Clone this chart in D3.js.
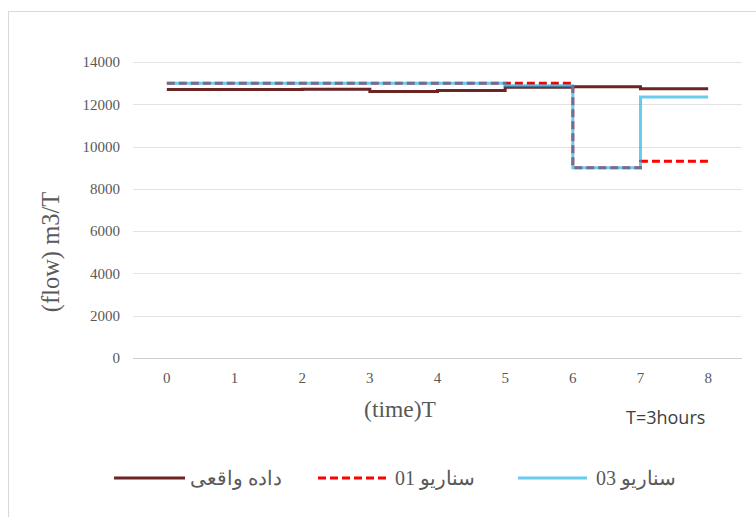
<!DOCTYPE html>
<html><head><meta charset="utf-8">
<script src="https://cdn.jsdelivr.net/npm/d3@7"></script>
<style>body{margin:0;background:#fff}svg{display:block}</style>
</head><body>
<svg id="c" width="756" height="517"></svg>
<script>
const categories = [0,1,2,3,4,5,6,7,8];
const realData = [12700,12700,12710,12600,12650,12800,12830,12740,12740];
const scenario01 = [13000,13000,13000,13000,13000,13000,9000,9300,9300];
const scenario03 = [13000,13000,13000,13000,13000,12880,9000,12350,12350];
const yTicks = [0,2000,4000,6000,8000,10000,12000,14000];
const seriesNames = ["داده واقعی","سناریو 01","سناریو 03"];

(function(){
const svg = d3.select("#c");
const W=756,H=517;
svg.append("rect").attr("x",8.5).attr("y",11.5).attr("width",W).attr("height",H).attr("fill","#fff").attr("stroke","#d9d9d9");

const pL=133,pR=742,pT=62,pB=358;
const band = d3.scaleBand().domain(categories).range([pL,pR]);
const x = v => band(v)+band.bandwidth()/2;
const y = d3.scaleLinear().domain([0,14000]).range([pB,pT]);

const serif = "'Liberation Serif','Times New Roman',serif";
svg.append("g").selectAll("line").data(yTicks.filter(d=>d>0)).join("line")
  .attr("x1",pL).attr("x2",pR).attr("y1",d=>Math.round(y(d))+0.5).attr("y2",d=>Math.round(y(d))+0.5)
  .attr("stroke","#e3e3e3").attr("stroke-width",1);
svg.append("line").attr("x1",pL).attr("x2",pR).attr("y1",Math.round(y(0))+0.5).attr("y2",Math.round(y(0))+0.5)
  .attr("stroke","#cfcfcf").attr("stroke-width",1);

const yAxis = d3.axisLeft(y).tickValues(yTicks).tickSize(0).tickPadding(13).tickFormat(d3.format("d"));
const gy = svg.append("g").attr("transform",`translate(${pL},0)`).call(yAxis);
gy.select(".domain").remove();
gy.attr("font-family",null).attr("font-size",null);
gy.selectAll("text").style("font-family",serif).style("font-size","15px").style("fill","#595959");

const xAxis = d3.axisBottom(band).tickSize(0).tickPadding(14);
const gx = svg.append("g").attr("transform",`translate(0,${pB})`).call(xAxis);
gx.select(".domain").remove();
gx.attr("font-family",null).attr("font-size",null);
gx.selectAll("text").style("font-family",serif).style("font-size","15px").style("fill","#595959");

svg.append("text").attr("transform","translate(59,252) rotate(-90)").attr("text-anchor","middle")
  .style("font-family",serif).style("font-size","24.5px").style("fill","#595959").text("(flow) m3/T");
svg.append("text").attr("x",400).attr("y",417).attr("text-anchor","middle")
  .style("font-family",serif).style("font-size","23.5px").style("fill","#595959").text("(time)T");
svg.append("text").attr("x",626).attr("y",424).style("font-family","'Open Sans','Noto Sans',sans-serif")
  .style("font-size","18px").style("fill","#404040").text("T=3hours");

const line = d3.line().x((d,i)=>x(categories[i])).y(d=>y(d)).curve(d3.curveStepAfter);
const cReal="#6b2525", cRed="#ff0000", cBlue="rgb(25,177,230)", blueOp=0.65;
svg.append("path").datum(realData).attr("d",line).attr("fill","none").attr("stroke",cReal).attr("stroke-width",3);
svg.append("path").datum(scenario01).attr("d",line).attr("fill","none").attr("stroke",cRed).attr("stroke-width",3).attr("stroke-dasharray","8,4");
svg.append("path").datum(scenario03).attr("d",line).attr("fill","none").attr("stroke",cBlue).attr("stroke-opacity",blueOp).attr("stroke-width",3);

const leg = [
  {x1:114,x2:185,tx:236,color:cReal,dash:null,op:1},
  {x1:318,x2:386,tx:435,color:cRed,dash:"8,4",op:1},
  {x1:518,x2:587,tx:636,color:cBlue,dash:null,op:blueOp}
];
leg.forEach((l,i)=>{
  svg.append("line").attr("x1",l.x1).attr("x2",l.x2).attr("y1",478).attr("y2",478)
    .attr("stroke",l.color).attr("stroke-width",3).attr("stroke-opacity",l.op).attr("stroke-dasharray",l.dash);
  svg.append("text").attr("x",l.tx).attr("y",485).attr("text-anchor","middle")
    .style("font-family",serif).style("font-size","20px").style("fill","#595959").text(seriesNames[i]);
});
})();
</script>
</body></html>
